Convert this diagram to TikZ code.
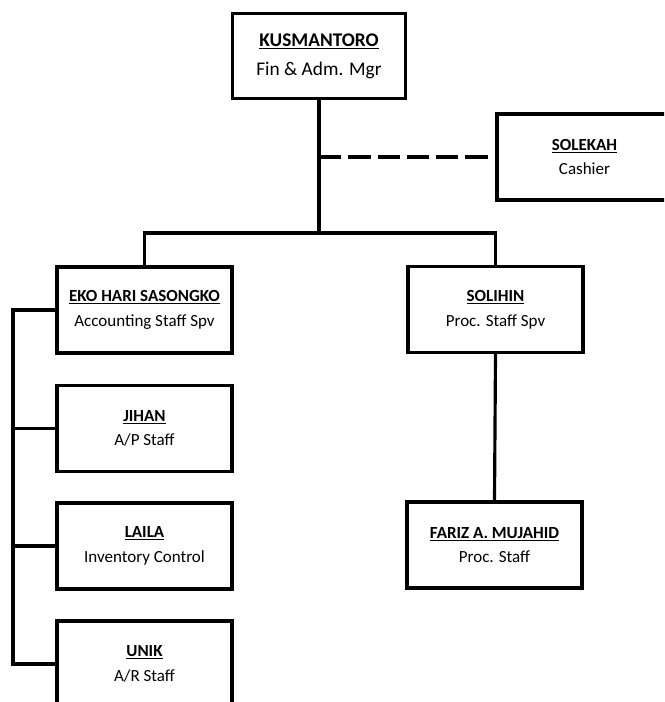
\documentclass[tikz,border=0pt]{standalone}
\usepackage{fontspec}
\setmainfont{Carlito}
\usepackage{tikz}
\usetikzlibrary{shapes,arrows}

\tikzset{
  person/.style={draw=black, line width=2.7pt, fill=white, align=center,
    minimum width=5.25cm, minimum height=2.58cm, inner sep=0pt,
    font=\fontsize{14.5}{21}\selectfont},
  bigperson/.style={person, minimum width=5.2cm, minimum height=2.55cm,
    font=\fontsize{16.5}{25}\selectfont},
  link/.style={draw=black, line width=2.7pt}
}
\newcommand{\who}[2]{\underline{\textbf{#1}}\\#2}

\begin{document}
\begin{tikzpicture}[x=0.03cm, y=-0.03cm]

    % frame
    \useasboundingbox (0,0) rectangle (664,702);
    \clip (0,0) rectangle (664,702);

    % manager and cashier
    \node[bigperson] (kus) at (319,56) {\who{KUSMANTORO}{Fin \& Adm. Mgr}};
    \node[person] (sole) at (584.5,157) {\who{SOLEKAH}{Cashier}};

    % supervisors
    \node[person] (eko) at (144.5,310) {\who{EKO HARI SASONGKO}{Accounting Staff Spv}};
    \node[person] (sol) at (495.5,309.5) {\who{SOLIHIN}{Proc. Staff Spv}};

    % staff
    \node[person] (jihan) at (144.5,428.5) {\who{JIHAN}{A/P Staff}};
    \node[person] (laila) at (144.5,546) {\who{LAILA}{Inventory Control}};
    \node[person] (unik) at (144.5,664) {\who{UNIK}{A/R Staff}};
    \node[person] (fariz) at (494.5,545) {\who{FARIZ A. MUJAHID}{Proc. Staff}};

    % helper points
    \coordinate (split) at (319,233);
    \coordinate (spine) at (13,310);

    % edges
    \draw[link] (kus.south) -- (split);
    \draw[link] (eko.north) |- (split) -| (sol.north);
    \draw[link, dash pattern=on 19pt off 6pt] (kus.south |- sole.west) -- (sole.west);
    \draw[link] (sol.south) -- (fariz.north);
    \draw[link] (eko.west) -- (spine) |- (unik.west);
    \draw[link] (spine |- jihan.west) -- (jihan.west);
    \draw[link] (spine |- laila.west) -- (laila.west);

  \end{tikzpicture}
\end{document}
